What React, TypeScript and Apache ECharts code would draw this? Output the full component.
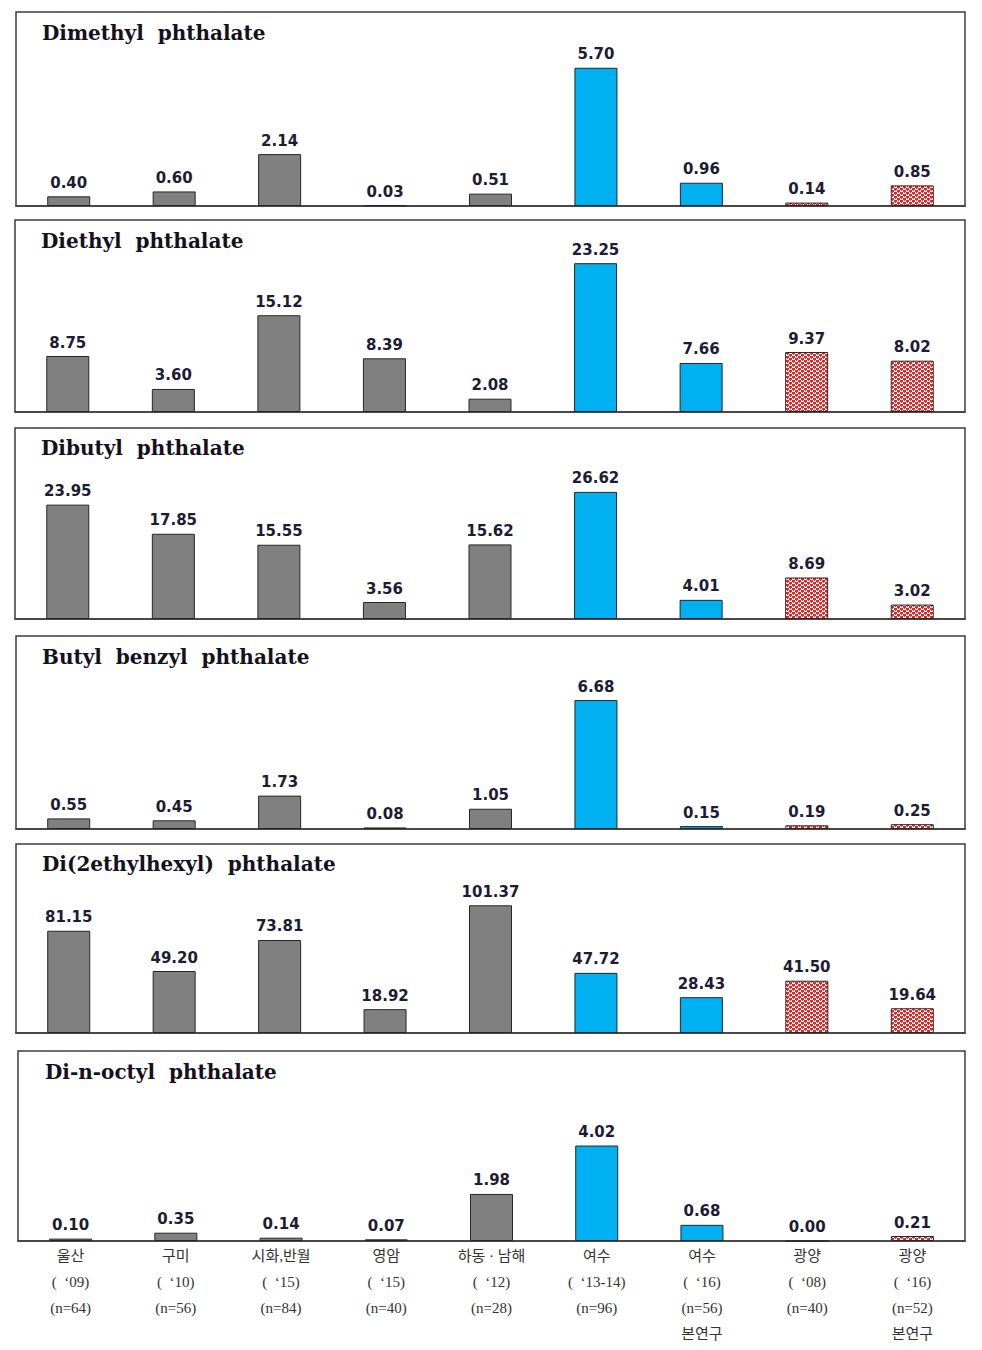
import React, { useEffect, useRef } from 'react';
import * as echarts from 'echarts';

const regions = ['울산', '구미', '시화,반월', '영암', '하동 · 남해', '여수', '여수', '광양', '광양'];
const years = ['(  ‘09)', '(  ‘10)', '(  ‘15)', '(  ‘15)', '(  ‘12)', '(  ‘13-14)', '(  ‘16)', '(  ‘08)', '(  ‘16)'];
const sampleSizes = ['(n=64)', '(n=56)', '(n=84)', '(n=40)', '(n=28)', '(n=96)', '(n=56)', '(n=40)', '(n=52)'];
const notes = ['', '', '', '', '', '', '본연구', '', '본연구'];

const panelTitles = [
  'Dimethyl  phthalate',
  'Diethyl  phthalate',
  'Dibutyl  phthalate',
  'Butyl  benzyl  phthalate',
  'Di(2ethylhexyl)  phthalate',
  'Di-n-octyl  phthalate',
];

const dmp = [0.40, 0.60, 2.14, 0.03, 0.51, 5.70, 0.96, 0.14, 0.85];
const dep = [8.75, 3.60, 15.12, 8.39, 2.08, 23.25, 7.66, 9.37, 8.02];
const dbp = [23.95, 17.85, 15.55, 3.56, 15.62, 26.62, 4.01, 8.69, 3.02];
const bbp = [0.55, 0.45, 1.73, 0.08, 1.05, 6.68, 0.15, 0.19, 0.25];
const dehp = [81.15, 49.20, 73.81, 18.92, 101.37, 47.72, 28.43, 41.50, 19.64];
const dnop = [0.10, 0.35, 0.14, 0.07, 1.98, 4.02, 0.68, 0.00, 0.21];

const panelValues = [dmp, dep, dbp, bbp, dehp, dnop];
const panelMax = [8, 30, 40, 10, 150, 8];
// 0 = gray (other studies), 1 = blue (여수), 2 = dotted (광양)
const barGroup = [0, 0, 0, 0, 0, 1, 1, 2, 2];

const categoryLabels = regions.map((r, i) =>
  [r, years[i], sampleSizes[i], notes[i]].filter(Boolean).join('\n')
);

function makePattern(): HTMLCanvasElement {
  const c = document.createElement('canvas');
  c.width = 6;
  c.height = 4;
  const ctx = c.getContext('2d')!;
  ctx.fillStyle = '#ffffff';
  ctx.fillRect(0, 0, 6, 4);
  ctx.fillStyle = '#ff1a1a';
  ctx.fillRect(0, 0, 3, 2);
  ctx.fillRect(3, 2, 3, 2);
  ctx.fillStyle = '#9a5a5a';
  ctx.fillRect(4, 0, 1, 1);
  ctx.fillRect(1, 2, 1, 1);
  return c;
}

export default function App() {
  const ref = useRef<HTMLDivElement>(null);

  useEffect(() => {
    if (!ref.current) return;
    const chart = echarts.init(ref.current, null, { renderer: 'svg' });
    const pattern = makePattern();
    const patternColor: any = { image: pattern, repeat: 'repeat', imageWidth: 6, imageHeight: 4 };

    const tops = [12, 220, 428, 636, 844, 1051];
    const heights = [194, 192, 191, 193, 189, 190];
    const lefts = [16, 15, 15, 16, 16, 18];
    const titleTops = [23, 231, 438, 647, 854, 1062];
    const titleLefts = [42, 41, 41, 42, 42, 45];

    const grids = tops.map((t, i) => ({
      left: lefts[i],
      top: t,
      width: 965 - lefts[i],
      height: heights[i],
      show: true,
      backgroundColor: '#ffffff',
      borderColor: '#3c3c3c',
      borderWidth: 1.5,
    }));

    const xAxes = tops.map((_, i) => ({
      type: 'category',
      gridIndex: i,
      data: categoryLabels,
      axisTick: { show: false },
      axisLine: { show: true, lineStyle: { color: '#3c3c3c', width: 1.5 } },
      axisLabel: {
        show: i === 5,
        interval: 0,
        margin: 2,
        fontSize: 15,
        lineHeight: 26,
        color: '#333333',
        fontFamily: 'Liberation Serif, Noto Sans CJK KR, serif',
      },
    }));

    const yAxes = tops.map((_, i) => ({
      type: 'value',
      gridIndex: i,
      min: 0,
      max: panelMax[i],
      show: false,
      splitLine: { show: false },
    }));

    const series = panelValues.map((vals, i) => ({
      type: 'bar',
      xAxisIndex: i,
      yAxisIndex: i,
      barWidth: 43,
      data: vals.map((v, j) => ({
        value: v,
        itemStyle: {
          color: barGroup[j] === 0 ? '#808080' : barGroup[j] === 1 ? '#00b0f0' : patternColor,
          borderColor: '#262626',
          borderWidth: 1,
        },
      })),
      label: {
        show: true,
        position: 'top',
        distance: 6,
        fontSize: 15,
        fontWeight: 'bold',
        fontFamily: 'DejaVu Sans, sans-serif',
        color: '#1c1c34',
        formatter: (p: any) => Number(p.value).toFixed(2),
      },
    }));

    const graphic = panelTitles.map((t, i) => ({
      type: 'text',
      left: titleLefts[i],
      top: titleTops[i],
      z: 100,
      style: {
        text: t,
        font: 'bold 20px "DejaVu Serif", serif',
        fill: '#14101e',
      },
    }));

    chart.setOption({
      animation: false,
      backgroundColor: '#ffffff',
      grid: grids,
      xAxis: xAxes,
      yAxis: yAxes,
      series,
      graphic,
    } as any);

    return () => chart.dispose();
  }, []);

  return (
    <div
      ref={ref}
      style={{ position: 'absolute', left: 0, top: 0, width: 982, height: 1350 }}
    />
  );
}
